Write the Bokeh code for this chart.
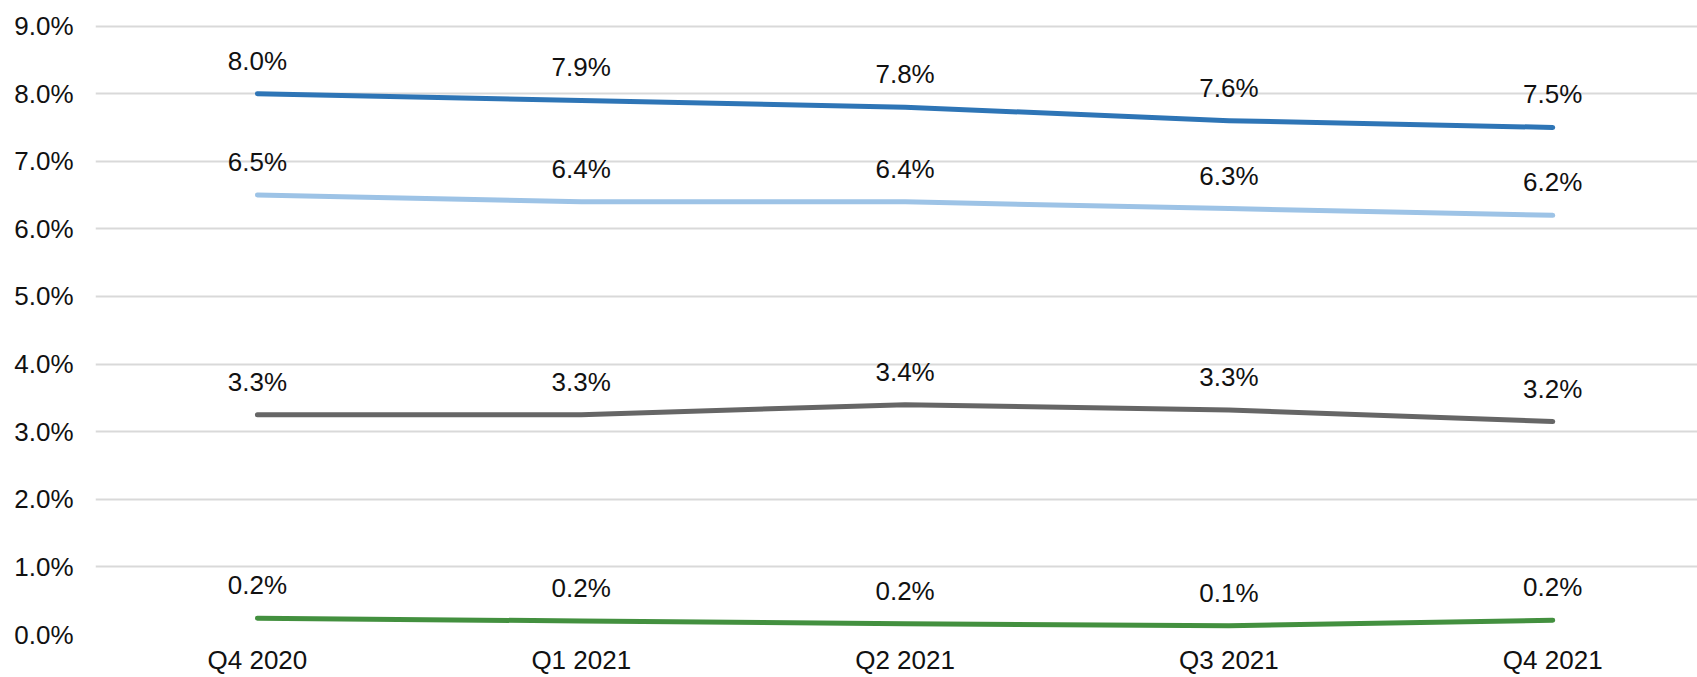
from bokeh.plotting import figure
from bokeh.models import Range1d, FixedTicker, ColumnDataSource
from bokeh.core.properties import value
from bokeh.embed import file_html
from bokeh.resources import INLINE

quarters = ["Q4 2020", "Q1 2021", "Q2 2021", "Q3 2021", "Q4 2021"]
x_pos = [0, 1, 2, 3, 4]

series_a = [8.0, 7.9, 7.8, 7.6, 7.5]
series_a_labels = ["8.0%", "7.9%", "7.8%", "7.6%", "7.5%"]
series_b = [6.5, 6.4, 6.4, 6.3, 6.2]
series_b_labels = ["6.5%", "6.4%", "6.4%", "6.3%", "6.2%"]
series_c = [3.25, 3.25, 3.4, 3.32, 3.15]
series_c_labels = ["3.3%", "3.3%", "3.4%", "3.3%", "3.2%"]
series_d = [0.24, 0.2, 0.16, 0.13, 0.21]
series_d_labels = ["0.2%", "0.2%", "0.2%", "0.1%", "0.2%"]

y_ticks = [0, 1, 2, 3, 4, 5, 6, 7, 8, 9]

FONT = "Liberation Sans"

p = figure(width=1697, height=677, output_backend="svg", toolbar_location=None,
           x_range=Range1d(-0.5, 4.447), y_range=Range1d(0, 9.378),
           min_border_left=95, min_border_right=0, min_border_top=0, min_border_bottom=43)
p.outline_line_color = None
p.background_fill_color = "white"
p.border_fill_color = "white"

p.xgrid.grid_line_color = None
p.ygrid.grid_line_color = "#d9d9d9"
p.ygrid.grid_line_width = 2

p.yaxis.ticker = FixedTicker(ticks=y_ticks)
p.yaxis.major_label_overrides = {t: f"{t:.1f}%" for t in y_ticks}
p.xaxis.ticker = FixedTicker(ticks=x_pos)
p.xaxis.major_label_overrides = {i: q for i, q in zip(x_pos, quarters)}

for ax in (p.xaxis[0], p.yaxis[0]):
    ax.axis_line_color = None
    ax.major_tick_line_color = None
    ax.minor_tick_line_color = None
    ax.major_tick_out = 0
    ax.major_tick_in = 0
    ax.major_label_text_font = FONT
    ax.major_label_text_font_size = "26px"
    ax.major_label_text_color = "#111111"
p.yaxis.major_label_standoff = 22
p.xaxis.major_label_standoff = 10

colors = ["#2e75b6", "#9dc3e6", "#666666", "#43903f"]
for vals, labs, col in [(series_a, series_a_labels, colors[0]),
                        (series_b, series_b_labels, colors[1]),
                        (series_c, series_c_labels, colors[2]),
                        (series_d, series_d_labels, colors[3])]:
    src = ColumnDataSource(dict(x=x_pos, y=vals, t=labs))
    p.line("x", "y", source=src, line_color=col, line_width=5,
           line_cap="round", line_join="round")
    p.text("x", "y", text="t", source=src, text_align="center",
           text_baseline="alphabetic", y_offset=-33,
           text_font=value(FONT), text_font_size="26px", text_color="#111111")

open("out.html", "w").write(file_html(p, INLINE))
